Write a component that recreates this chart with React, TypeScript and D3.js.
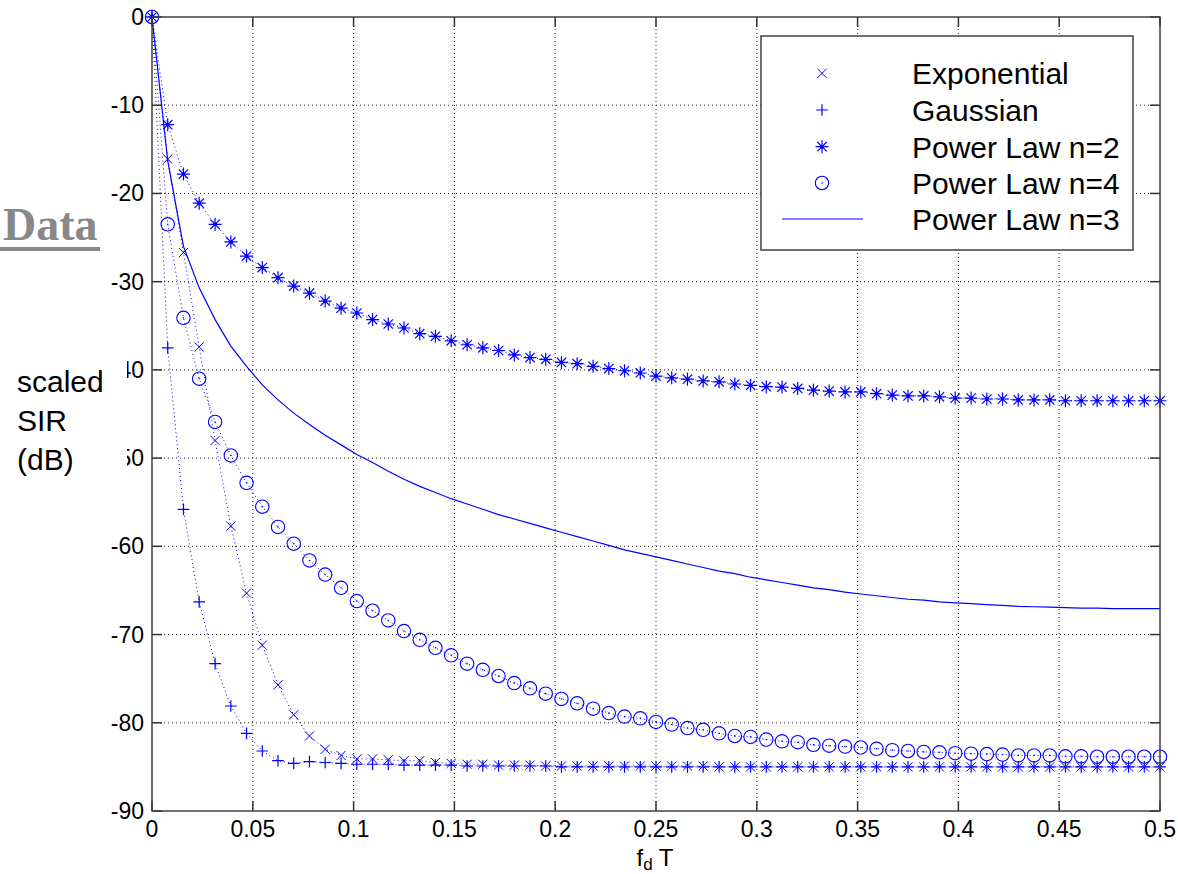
import React from "react";
import * as d3 from "d3";

// f_d T sample points
const fdT = [
  0, 0.0078, 0.0156, 0.0234, 0.0313, 0.0391, 0.0469, 0.0547, 0.0625, 0.0703,
  0.0781, 0.0859, 0.0938, 0.1016, 0.1094, 0.1172, 0.125, 0.1328, 0.1406, 0.1484,
  0.1563, 0.1641, 0.1719, 0.1797, 0.1875, 0.1953, 0.2031, 0.2109, 0.2188, 0.2266,
  0.2344, 0.2422, 0.25, 0.2578, 0.2656, 0.2734, 0.2813, 0.2891, 0.2969, 0.3047,
  0.3125, 0.3203, 0.3281, 0.3359, 0.3438, 0.3516, 0.3594, 0.3672, 0.375, 0.3828,
  0.3906, 0.3984, 0.4063, 0.4141, 0.4219, 0.4297, 0.4375, 0.4453, 0.4531, 0.4609,
  0.4688, 0.4766, 0.4844, 0.4922, 0.5,
];

const exponential = [
  0, -16.1, -26.7, -37.4, -48.0, -57.7, -65.3, -71.2, -75.7, -79.1,
  -81.5, -83.0, -83.7, -84.1, -84.1, -84.2, -84.3, -84.3, -84.5, -84.6,
  -84.7, -84.7, -84.8, -84.8, -84.8, -84.9, -84.9, -84.9, -84.9, -84.9,
  -84.9, -84.9, -84.9, -84.9, -84.9, -84.9, -85.0, -85.0, -85.0, -85.0,
  -85.0, -85.0, -85.0, -85.0, -85.0, -85.0, -85.0, -85.0, -85.0, -85.0,
  -85.0, -85.0, -85.0, -85.0, -85.0, -85.0, -85.0, -85.0, -85.0, -85.0,
  -85.0, -85.0, -85.0, -85.0, -85.0,
];

const gaussian = [
  0, -37.5, -55.8, -66.3, -73.3, -78.1, -81.2, -83.2, -84.3, -84.6,
  -84.4, -84.5, -84.6, -84.7, -84.7, -84.7, -84.8, -84.8, -84.8, -84.8,
  -84.9, -84.9, -84.9, -84.9, -84.9, -84.9, -85.0, -85.0, -85.0, -85.0,
  -85.0, -85.0, -85.0, -85.0, -85.0, -85.0, -85.0, -85.0, -85.0, -85.0,
  -85.0, -85.0, -85.0, -85.0, -85.0, -85.0, -85.0, -85.0, -85.0, -85.0,
  -85.0, -85.0, -85.0, -85.0, -85.0, -85.0, -85.0, -85.0, -85.0, -85.0,
  -85.0, -85.0, -85.0, -85.0, -85.0,
];

const powerLaw2 = [
  0, -12.2, -17.8, -21.1, -23.5, -25.5, -27.1, -28.4, -29.55, -30.5,
  -31.3, -32.2, -33.0, -33.55, -34.3, -34.8, -35.25, -35.9, -36.2, -36.7,
  -37.15, -37.5, -37.8, -38.3, -38.6, -38.8, -39.15, -39.3, -39.6, -39.85,
  -40.1, -40.35, -40.7, -40.9, -41.05, -41.25, -41.35, -41.6, -41.75, -41.9,
  -41.95, -42.1, -42.3, -42.4, -42.5, -42.5, -42.7, -42.85, -42.95, -42.95,
  -43.05, -43.2, -43.2, -43.3, -43.3, -43.4, -43.4, -43.4, -43.5, -43.5,
  -43.5, -43.5, -43.5, -43.5, -43.5,
];

const powerLaw4 = [
  0, -23.5, -34.1, -41.0, -45.9, -49.7, -52.8, -55.5, -57.8, -59.7,
  -61.6, -63.2, -64.7, -66.2, -67.3, -68.4, -69.6, -70.6, -71.5, -72.35,
  -73.3, -74.0, -74.7, -75.5, -76.1, -76.7, -77.3, -77.8, -78.4, -78.9,
  -79.3, -79.5, -79.9, -80.2, -80.6, -80.8, -81.2, -81.5, -81.6, -81.9,
  -82.1, -82.2, -82.5, -82.6, -82.7, -82.8, -82.95, -83.1, -83.2, -83.3,
  -83.35, -83.45, -83.5, -83.55, -83.6, -83.7, -83.7, -83.7, -83.8, -83.8,
  -83.85, -83.85, -83.85, -83.85, -83.85,
];

const powerLaw3 = [
  0, -16.3, -26.0, -30.7, -34.3, -37.3, -39.6, -41.7, -43.4, -44.9,
  -46.2, -47.4, -48.5, -49.6, -50.5, -51.5, -52.4, -53.2, -53.9, -54.6,
  -55.2, -55.8, -56.4, -56.9, -57.4, -57.9, -58.4, -58.9, -59.4, -59.9,
  -60.4, -60.8, -61.2, -61.6, -62.0, -62.4, -62.8, -63.1, -63.5, -63.8,
  -64.1, -64.4, -64.7, -64.9, -65.2, -65.4, -65.6, -65.8, -66.0, -66.1,
  -66.3, -66.4, -66.5, -66.6, -66.7, -66.8, -66.85, -66.9, -66.95, -67.0,
  -67.0, -67.05, -67.05, -67.05, -67.05,
];

const xTicks = [0, 0.05, 0.1, 0.15, 0.2, 0.25, 0.3, 0.35, 0.4, 0.45, 0.5];
const xTickLabels = ["0", "0.05", "0.1", "0.15", "0.2", "0.25", "0.3", "0.35", "0.4", "0.45", "0.5"];
const yTicks = [0, -10, -20, -30, -40, -50, -60, -70, -80, -90];
const yTickLabels = ["0", "-10", "-20", "-30", "-40", "-50", "-60", "-70", "-80", "-90"];

const legendLabels = ["Exponential", "Gaussian", "Power Law n=2", "Power Law n=4", "Power Law n=3"];

const BLUE = "#0000ff";
const FONT = "'Liberation Sans', Arial, Helvetica, sans-serif";

const L = 152, R = 1160, T = 17, B = 811;

function xMark(s: number) {
  return `M${-s},${-s}L${s},${s}M${-s},${s}L${s},${-s}`;
}
function plusMark(s: number) {
  return `M${-s},0L${s},0M0,${-s}L0,${s}`;
}
function starMark(s: number) {
  const d = s * 0.72;
  return plusMark(s) + xMark(d);
}

function Marker({ kind, x, y }: { kind: string; x: number; y: number }) {
  if (kind === "x")
    return <path d={xMark(4.6)} transform={`translate(${x},${y})`} stroke={BLUE} strokeWidth={1} fill="none" />;
  if (kind === "+")
    return <path d={plusMark(5.8)} transform={`translate(${x},${y})`} stroke={BLUE} strokeWidth={1.2} fill="none" />;
  if (kind === "*")
    return (
      <g transform={`translate(${x},${y})`}>
        <path d={starMark(6.5)} stroke={BLUE} strokeWidth={1.2} fill="none" />
        <circle r={1.8} fill={BLUE} />
      </g>
    );
  return (
    <g transform={`translate(${x},${y})`}>
      <circle r={6.7} stroke={BLUE} strokeWidth={1.1} fill="none" />
      <circle r={0.8} fill={BLUE} />
    </g>
  );
}

export default function App() {
  const x = d3.scaleLinear().domain([0, 0.5]).range([L, R]);
  const y = d3.scaleLinear().domain([-90, 0]).range([B, T]);

  const markerSeries = [
    { kind: "x", data: exponential },
    { kind: "+", data: gaussian },
    { kind: "*", data: powerLaw2 },
    { kind: "o", data: powerLaw4 },
  ];

  const line = d3
    .line<number>()
    .x((_, i) => x(fdT[i]))
    .y((d) => y(d));

  const legendX = 761, legendY = 36, legendW = 372, legendH = 214;
  const rowY = [73.3, 110, 146.7, 183, 219];

  return (
    <div style={{ position: "absolute", left: 0, top: 0 }}>
      <svg width={1178} height={874} style={{ display: "block", background: "#fff" }}>
        <rect x={0} y={0} width={1178} height={874} fill="#fff" />

        {/* grid */}
        <g stroke="#222" strokeWidth={1} strokeDasharray="1,3">
          {xTicks.slice(1, -1).map((t) => (
            <line key={"gx" + t} x1={x(t)} x2={x(t)} y1={T} y2={B} />
          ))}
          {yTicks.slice(1, -1).map((t) => (
            <line key={"gy" + t} x1={L} x2={R} y1={y(t)} y2={y(t)} />
          ))}
        </g>

        {/* dotted connectors */}
        {markerSeries.map((s) => (
          <path key={"l" + s.kind} d={line(s.data) || ""} fill="none" stroke={BLUE} strokeWidth={1} strokeDasharray="1,3" />
        ))}
        {/* solid n=3 */}
        <path d={line(powerLaw3) || ""} fill="none" stroke={BLUE} strokeWidth={1.2} />

        {/* markers */}
        {markerSeries.map((s) =>
          s.data.map((v, i) => <Marker key={s.kind + i} kind={s.kind} x={x(fdT[i])} y={y(v)} />)
        )}

        {/* ticks */}
        <g stroke="#333" strokeWidth={1.5}>
          {xTicks.map((t) => (
            <g key={"tx" + t}>
              <line x1={x(t)} x2={x(t)} y1={B} y2={B - 10} />
              <line x1={x(t)} x2={x(t)} y1={T} y2={T + 10} />
            </g>
          ))}
          {yTicks.map((t) => (
            <g key={"ty" + t}>
              <line x1={L} x2={L + 10} y1={y(t)} y2={y(t)} />
              <line x1={R} x2={R - 10} y1={y(t)} y2={y(t)} />
            </g>
          ))}
        </g>

        {/* axis box */}
        <rect x={L} y={T} width={R - L} height={B - T} fill="none" stroke="#404040" strokeWidth={1.5} />

        {/* tick labels */}
        <g fontFamily={FONT} fontSize={23} fill="#000">
          {xTicks.map((t, i) => (
            <text key={"xl" + t} x={x(t)} y={837} textAnchor="middle">
              {xTickLabels[i]}
            </text>
          ))}
          {yTicks.map((t, i) => (
            <text key={"yl" + t} x={144} y={y(t) + 8} textAnchor="end">
              {yTickLabels[i]}
            </text>
          ))}
        </g>

        {/* y label with white backing */}
        <rect x={0} y={345} width={127} height={140} fill="#fff" />
        <g fontFamily={FONT} fontSize={30} fill="#000">
          <text x={17} y={392}>scaled</text>
          <text x={17} y={431}>SIR</text>
          <text x={17} y={470}>(dB)</text>
        </g>

        {/* x label */}
        <text x={655} y={866} textAnchor="middle" fontFamily={FONT} fontSize={24} fill="#000">
          f<tspan fontSize={17} dy={4}>d</tspan>
          <tspan dy={-4}> T</tspan>
        </text>

        {/* Data header */}
        <text x={3} y={240} fontFamily="'Liberation Serif', 'Times New Roman', serif" fontWeight="bold" fontSize={46} fill="#888">
          Data
        </text>
        <rect x={0} y={247} width={100} height={4} fill="#888" />

        {/* legend */}
        <rect x={legendX} y={legendY} width={legendW} height={legendH} fill="#fff" stroke="#404040" strokeWidth={1.5} />
        {legendLabels.map((lab, i) => (
          <g key={lab}>
            {i < 4 ? (
              <Marker kind={markerSeries[i].kind} x={822} y={rowY[i]} />
            ) : (
              <line x1={782} x2={863} y1={rowY[i]} y2={rowY[i]} stroke={BLUE} strokeWidth={1.2} />
            )}
            <text x={912} y={rowY[i] + 11} fontFamily={FONT} fontSize={30} fill="#000">
              {lab}
            </text>
          </g>
        ))}
      </svg>
    </div>
  );
}
